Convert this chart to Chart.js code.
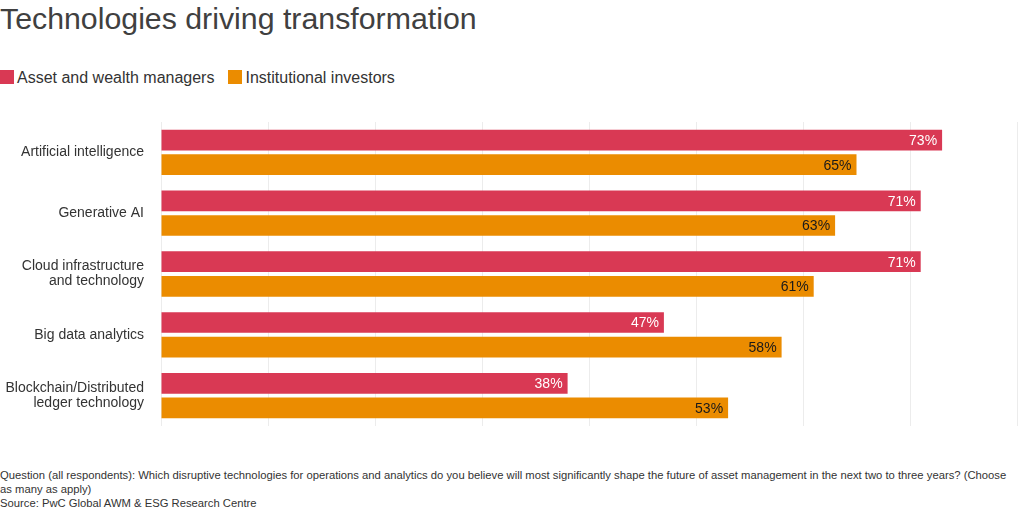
<!DOCTYPE html>
<html><head><meta charset="utf-8">
<script src="https://cdn.jsdelivr.net/npm/chart.js@4"></script>
<style>
html,body{margin:0;padding:0;background:#fff;width:1020px;height:510px;overflow:hidden;font-family:"Liberation Sans",Arial,sans-serif;color:#333}
#title{position:absolute;left:0;top:2px;font-size:30.3px;color:#404040;white-space:nowrap}
#legend{position:absolute;left:0;top:69px;font-size:16px;color:#333;white-space:nowrap}
.li{display:inline-block;margin-right:14px}
.sw{display:inline-block;width:14px;height:14px;vertical-align:-1px;margin-right:3px}
#wrap{position:absolute;left:0;top:122px;width:1020px;height:304px}
#foot{position:absolute;left:0;top:468px;font-size:11.25px;line-height:14px;color:#333;width:1016px}
</style></head><body>
<div id="title">Technologies driving transformation</div>
<div id="legend"></div>
<div id="wrap"><canvas id="c"></canvas></div>
<div id="foot">Question (all respondents): Which disruptive technologies for operations and analytics do you believe will most significantly shape the future of asset management in the next two to three years? (Choose as many as apply)<br>Source: PwC Global AWM &amp; ESG Research Centre</div>
<script>
const categories = [["Artificial intelligence"],["Generative AI"],["Cloud infrastructure","and technology"],["Big data analytics"],["Blockchain/Distributed","ledger technology"]];
const seriesNames = ["Asset and wealth managers","Institutional investors"];
const awmValues = [73,71,71,47,38];
const instValues = [65,63,61,58,53];
const colors = ["#d93954","#eb8c00"];
const labelColors = ["#ffffff","#1a1a1a"];

const lg = document.getElementById('legend');
seriesNames.forEach((n,i)=>{
  const s=document.createElement('span');s.className='li';
  s.innerHTML='<span class="sw" style="background:'+colors[i]+'"></span>'+n;
  lg.appendChild(s);
});

const valueLabels = {
  id:'valueLabels',
  afterDatasetsDraw(chart){
    const ctx=chart.ctx;
    ctx.save();
    ctx.font='14px "Liberation Sans", Arial, sans-serif';
    ctx.textAlign='right';ctx.textBaseline='middle';
    chart.data.datasets.forEach((ds,di)=>{
      const meta=chart.getDatasetMeta(di);
      meta.data.forEach((bar,i)=>{
        ctx.fillStyle=labelColors[di];
        ctx.fillText(ds.data[i]+'%',bar.x-5,bar.y+1);
      });
    });
    ctx.restore();
  }
};

new Chart(document.getElementById('c'),{
  type:'bar',
  data:{labels:categories,datasets:[
    {label:seriesNames[0],data:awmValues,backgroundColor:colors[0]},
    {label:seriesNames[1],data:instValues,backgroundColor:colors[1]}
  ]},
  options:{
    indexAxis:'y',responsive:true,maintainAspectRatio:false,animation:false,
    categoryPercentage:0.81,barPercentage:0.84,
    layout:{padding:{top:0,right:3,bottom:0,left:0}},
    plugins:{legend:{display:false},tooltip:{enabled:false}},
    scales:{
      x:{min:0,max:80,ticks:{display:false,stepSize:10},grid:{color:'#ececec',drawTicks:false},border:{display:false},
         afterFit(a){a.height=0;a.paddingLeft=0;a.paddingRight=0;}},
      y:{ticks:{color:'#333',font:{size:14,lineHeight:1.08,family:'"Liberation Sans", Arial, sans-serif'},padding:17},
         grid:{display:false,drawTicks:false},border:{display:false},
         afterFit(a){a.width=161;a.paddingTop=0;a.paddingBottom=0;}}
    }
  },
  plugins:[valueLabels]
});
</script>
</body></html>
